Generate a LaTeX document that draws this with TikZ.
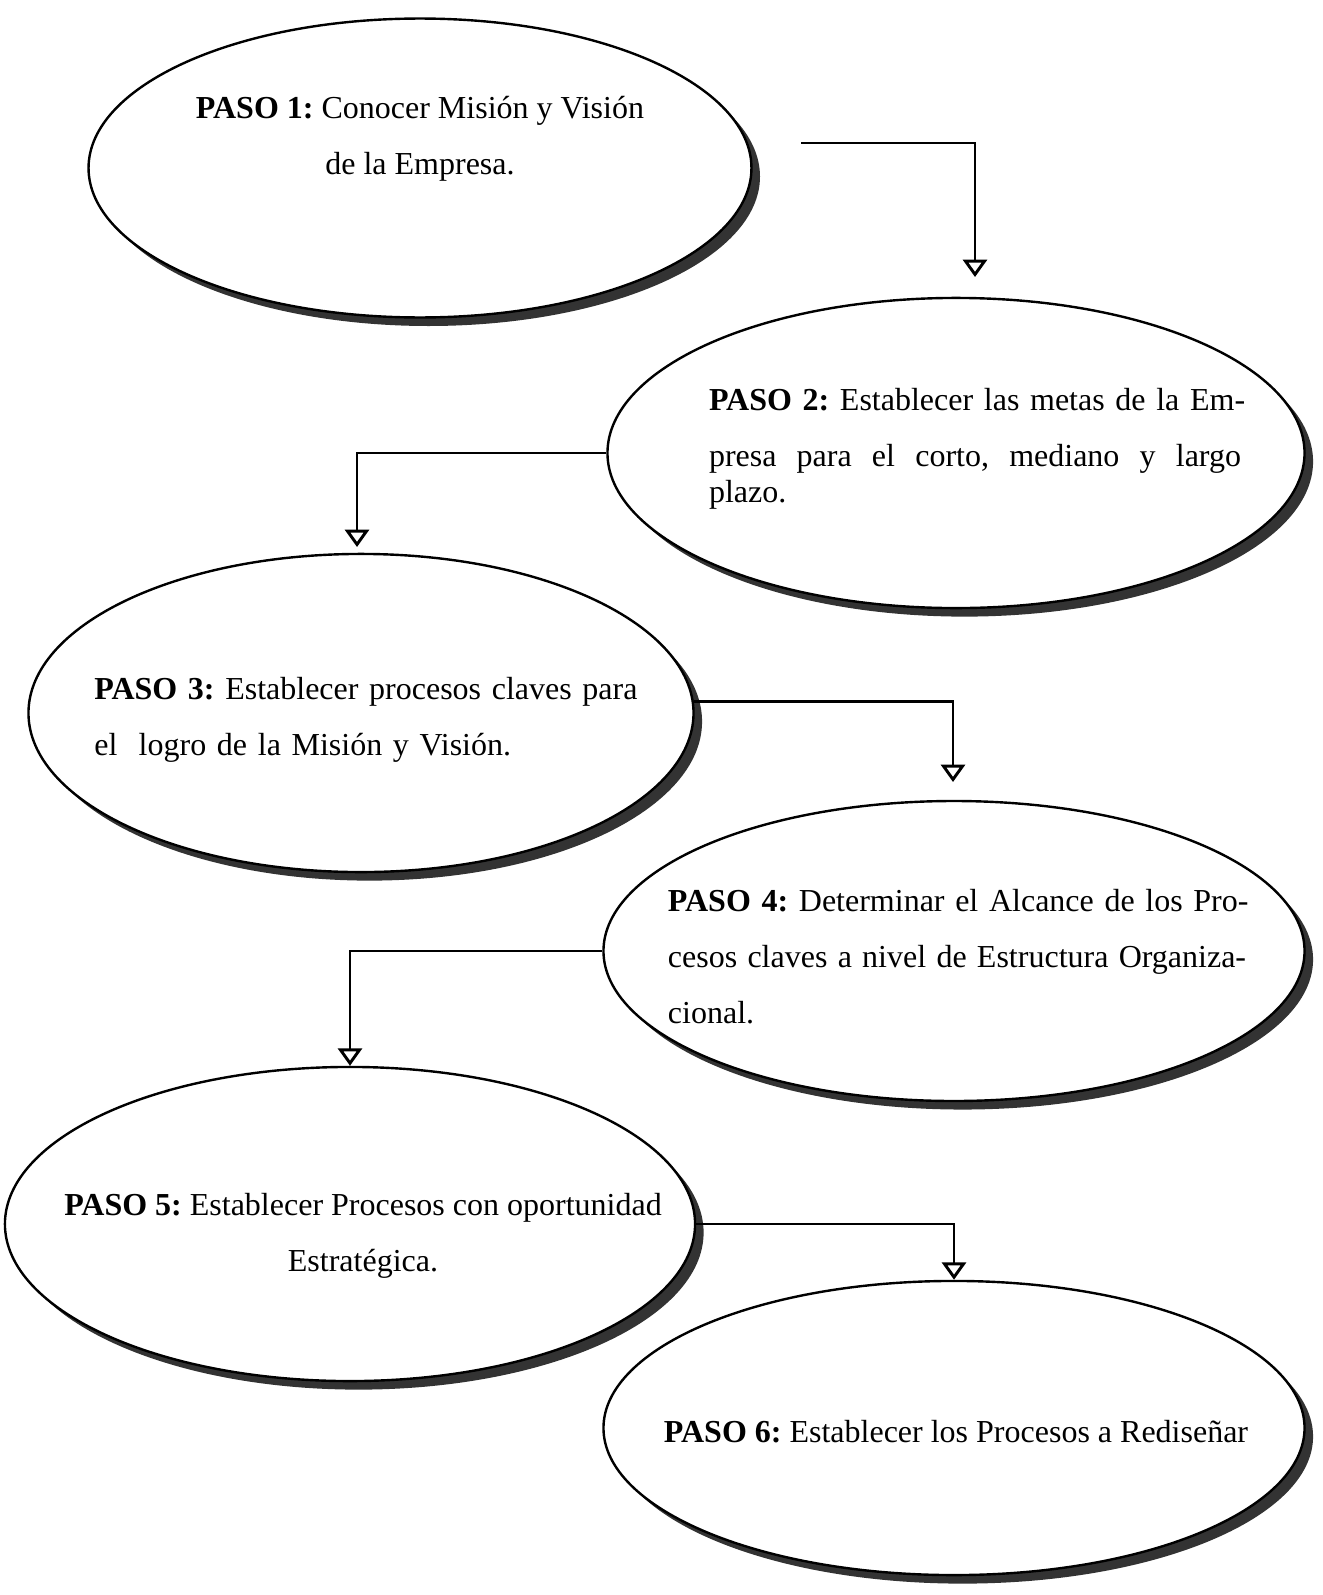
\documentclass[tikz,border=0pt]{standalone}
\usepackage{fontspec}
\setmainfont{Liberation Serif}
\usetikzlibrary{shapes.geometric,shadows,arrows.meta}

\tikzset{
    paso/.style={ellipse, draw, line width=0.9pt, fill=white, inner sep=0pt,
        drop shadow={shadow xshift=3.2pt, shadow yshift=-3.2pt, fill=black!80, opacity=1}},
    texto/.style={inner sep=0pt, font=\fontsize{12}{21}\selectfont\frenchspacing},
    flecha/.style={line width=1.1pt, -{Triangle[open, width=9pt, length=6.5pt]}}
}

\begin{document}
\begin{tikzpicture}[x=0.375pt, y=-0.375pt]
        \useasboundingbox (0,0) rectangle (1322,1595);

        \node[paso, minimum width=248.6pt, minimum height=112.1pt] (e1) at (420,168) {};
        \node[paso, minimum width=261.4pt, minimum height=116.3pt] (e2) at (956,453) {};
        \node[paso, minimum width=249.4pt, minimum height=119.3pt] (e3) at (361,713) {};
        \node[paso, minimum width=262.9pt, minimum height=112.5pt] (e4) at (954,951) {};
        \node[paso, minimum width=258.8pt, minimum height=117.8pt] (e5) at (350,1224) {};
        \node[paso, minimum width=262.9pt, minimum height=110.3pt] (e6) at (954,1428) {};

        \node[texto, align=center] (t1) at (420,139)
            {\textbf{PASO 1:} Conocer Misión y Visión\\de la Empresa.};
        \node[texto, text width=199.5pt, align=left] (t2) at (975,449)
            {\mbox{\textbf{PASO 2:} Establecer las metas de la Em-}\\
             \makebox[199.5pt]{presa\hfill para\hfill el\hfill corto,\hfill mediano\hfill y\hfill largo}\\[-7.5pt]plazo.};
        \node[texto, text width=212pt, align=left] (t3) at (377,720)
            {\textbf{PASO 3:} Establecer procesos claves para\\el\ \ logro de la Misión y Visión.};
        \node[texto, text width=216.8pt, align=left] (t4) at (957,957)
            {\mbox{\textbf{PASO 4:} Determinar el Alcance de los Pro-}\\
             \makebox[216.8pt]{cesos\hfill claves\hfill a\hfill nivel\hfill de\hfill Estructura\hfill Organiza-}\\cional.};
        \node[texto, align=center] (t5) at (363,1236)
            {\textbf{PASO 5:} Establecer Procesos con oportunidad\\Estratégica.};
        \node[texto] (t6) at (956,1432) {\textbf{PASO 6:} Establecer los Procesos a Rediseñar};

        \coordinate (s1) at (801,143);
        \coordinate (a1) at (975,277);
        \coordinate (a2) at (357,547);
        \coordinate (a3) at (953,782);

        \draw[flecha] (s1) -| (a1);
        \draw[flecha] (e2.west) -| (a2);
        \draw[flecha] (e3.2) -| (a3);
        \draw[flecha] (e4.west) -| (e5.north);
        \draw[flecha] (e5.east) -| (e6.north);

    \end{tikzpicture}
\end{document}
